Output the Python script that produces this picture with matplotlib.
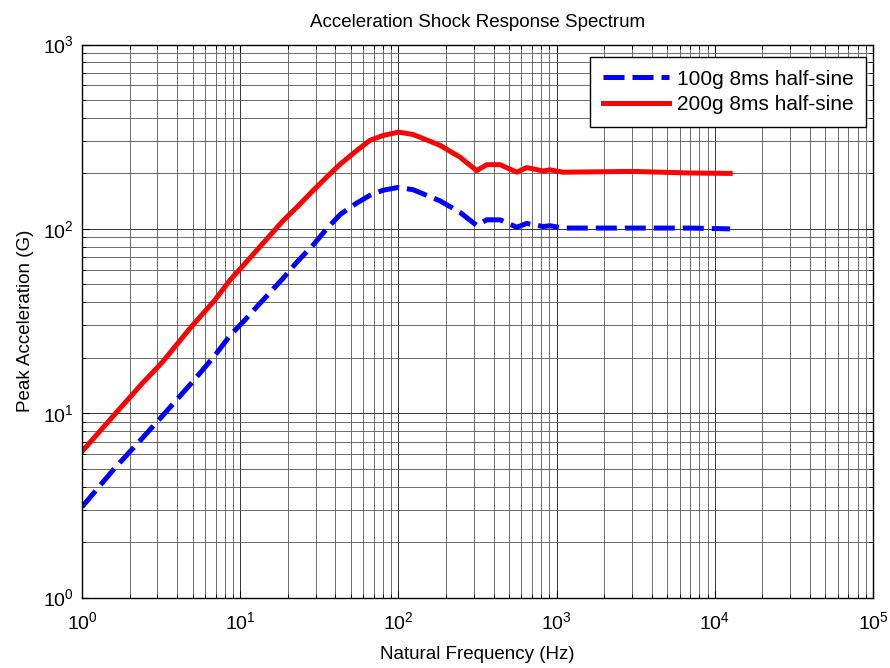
import matplotlib
matplotlib.use("Agg")
import matplotlib.pyplot as plt

plt.rcParams["font.family"] = ["Liberation Sans", "DejaVu Sans"]
plt.rcParams["mathtext.fontset"] = "custom"
plt.rcParams["mathtext.rm"] = "Liberation Sans"
plt.rcParams["mathtext.default"] = "regular"

# natural frequency (Hz) sample points
freq = [1, 1.6, 2.4, 3.2, 4.9, 6.9, 8.6, 10.7, 12.7, 18.7, 22.8, 29, 35.2,
        43, 54.5, 66, 80, 100, 124, 183, 245, 312, 362, 439, 560, 647, 824,
        908, 1100, 1800, 3000, 7000, 12500]
# peak acceleration (G)
srs_100g = [3.1, 5.0, 7.3, 9.6, 14.5, 20.5, 26.3, 32, 37.7, 54, 66, 82, 100,
            120, 138, 152, 162, 168, 163, 142, 123, 104.5, 112, 112, 102,
            107, 103, 104, 101, 101, 101, 101, 100]
srs_200g = [6.2, 9.8, 14.5, 18.8, 29.4, 41, 52.6, 64.8, 76.4, 111, 131, 162,
            191, 225, 266, 302, 321, 335, 325, 284, 245, 207, 223, 223, 203,
            215, 206, 209, 203, 204, 205, 201, 200]
labels = ["100g 8ms half-sine", "200g 8ms half-sine"]

fig = plt.figure(figsize=(8.9, 6.68), dpi=100)
ax = fig.add_axes([0.0921, 0.1055, 0.8888, 0.8278])

ax.loglog(freq, srs_100g, color="#0000ff", lw=3.6, dashes=(4.2, 1.6),
          dash_capstyle="butt", label=labels[0])
ax.loglog(freq, srs_200g, color="#ff0000", lw=3.6, label=labels[1])

ax.set_xlim(1, 1e5)
ax.set_ylim(1, 1e3)

ax.grid(True, which="major", color="#333333", lw=0.7)
ax.grid(True, which="minor", color="#555555", lw=0.6)
ax.set_axisbelow(True)

ax.tick_params(which="both", direction="in", top=True, right=True,
               labelsize=14, colors="black")
ax.tick_params(which="major", length=5, width=0.8, pad=6)
ax.tick_params(which="minor", length=3, width=0.6)
ax.tick_params(axis="x", which="major", pad=10)
for sp in ax.spines.values():
    sp.set_linewidth(1.0)
    sp.set_color("black")

ax.set_title("Acceleration Shock Response Spectrum", fontsize=13.5, pad=13)
ax.set_xlabel("Natural Frequency (Hz)", fontsize=13.5, labelpad=9)
ax.set_ylabel("Peak Acceleration (G)", fontsize=13.5, labelpad=6)

leg = ax.legend(loc="upper right", bbox_to_anchor=(0.9912, 0.9774),
                borderaxespad=0, fontsize=15, fancybox=False, framealpha=1,
                edgecolor="black", handlelength=3.2, handletextpad=0.35,
                borderpad=0.6, labelspacing=0.32)
leg.get_frame().set_linewidth(1.0)

fig.savefig("out.png", dpi=100)
plt.close(fig)
